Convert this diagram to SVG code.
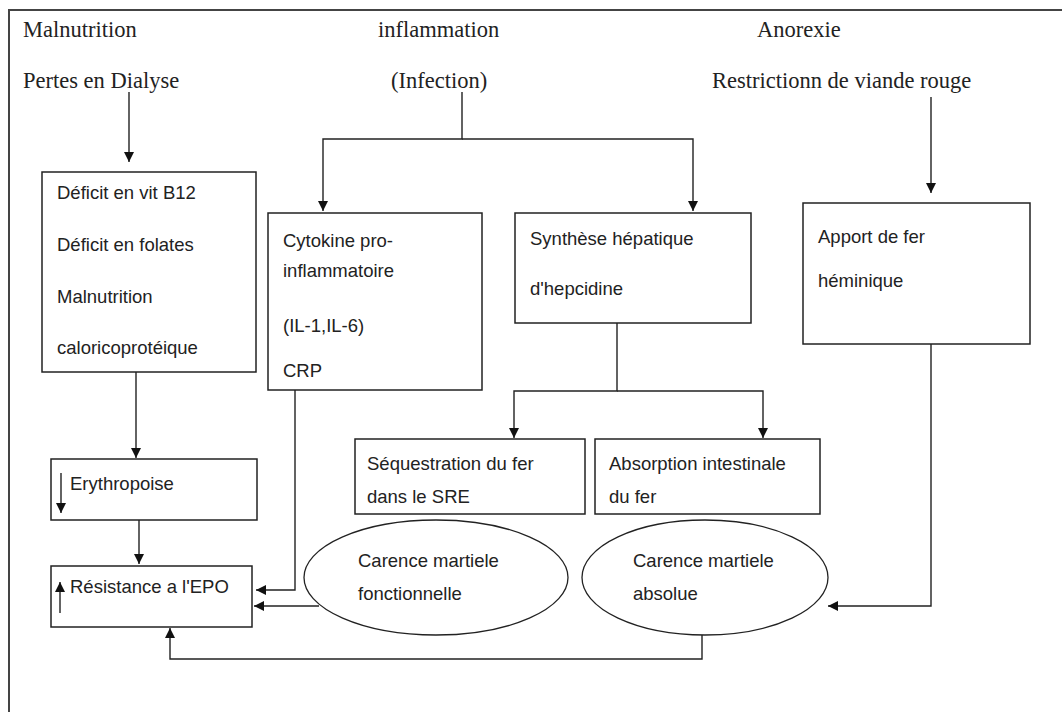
<svg xmlns="http://www.w3.org/2000/svg" width="1062" height="712" viewBox="0 0 1062 712">
<style>
.bg{fill:#fff}
.frame{stroke:#444;stroke-width:2;fill:none}
.box{fill:#fff;stroke:#222;stroke-width:1.5}
.ell{fill:#fff;stroke:#222;stroke-width:1.3}
.ln{fill:none;stroke:#222;stroke-width:1.4}
.lab{font-family:"Liberation Serif","Times New Roman",serif;font-size:22.5px;fill:#222}
.txt{font-family:"Liberation Sans",Arial,sans-serif;font-size:18.5px;fill:#222}
</style>
<defs>
<marker id="ah" viewBox="0 0 10 10" refX="10" refY="5" markerWidth="10" markerHeight="10" markerUnits="userSpaceOnUse" orient="auto">
<path d="M0,0 L10,5 L0,10 z" fill="#111"/>
</marker>
</defs>
<rect class="bg" x="0" y="0" width="1062" height="712"/>
<g id="frame">
<path class="frame" d="M9,712 V10 H1062"/>
</g>
<g id="labels">
<text class="lab" x="23" y="37">Malnutrition</text>
<text class="lab" x="23" y="88">Pertes en Dialyse</text>
<text class="lab" x="378" y="37">inflammation</text>
<text class="lab" x="391" y="88">(Infection)</text>
<text class="lab" x="757" y="37">Anorexie</text>
<text class="lab" x="712" y="88">Restrictionn de viande rouge</text>
</g>
<g id="connectors">
<path class="ln" d="M129,92 V162" marker-end="url(#ah)"/>
<path class="ln" d="M462,92 V139 H323 V211" marker-end="url(#ah)"/>
<path class="ln" d="M462,139 H693 V211" marker-end="url(#ah)"/>
<path class="ln" d="M931,97 V193" marker-end="url(#ah)"/>
<path class="ln" d="M136,372 V458" marker-end="url(#ah)"/>
<path class="ln" d="M139,520 V564" marker-end="url(#ah)"/>
<path class="ln" d="M295,390 V590 H256" marker-end="url(#ah)"/>
<path class="ln" d="M617,323 V391 H514 V438" marker-end="url(#ah)"/>
<path class="ln" d="M617,391 H763 V438" marker-end="url(#ah)"/>
<path class="ln" d="M319,606 H254" marker-end="url(#ah)"/>
<path class="ln" d="M931,344 V606 H828" marker-end="url(#ah)"/>
<path class="ln" d="M702,635 V659 H170 V628" marker-end="url(#ah)"/>
</g>
<g id="deficit">
<rect class="box" x="42" y="172" width="214" height="200"/>
<text class="txt" x="57" y="199">Déficit en vit B12</text>
<text class="txt" x="57" y="251">Déficit en folates</text>
<text class="txt" x="57" y="303">Malnutrition</text>
<text class="txt" x="57" y="354">caloricoprotéique</text>
</g>
<g id="cytokine">
<rect class="box" x="268" y="213" width="214" height="177"/>
<text class="txt" x="283" y="247">Cytokine pro-</text>
<text class="txt" x="283" y="277">inflammatoire</text>
<text class="txt" x="283" y="332">(IL-1,IL-6)</text>
<text class="txt" x="283" y="377">CRP</text>
</g>
<g id="hepcidine">
<rect class="box" x="515" y="213" width="236" height="110"/>
<text class="txt" x="530" y="245">Synthèse hépatique</text>
<text class="txt" x="530" y="295">d'hepcidine</text>
</g>
<g id="apport">
<rect class="box" x="803" y="203" width="227" height="141"/>
<text class="txt" x="818" y="243">Apport de fer</text>
<text class="txt" x="818" y="287">héminique</text>
</g>
<g id="sequestration">
<rect class="box" x="355" y="439" width="230" height="75"/>
<text class="txt" x="367" y="470">Séquestration du fer</text>
<text class="txt" x="367" y="503">dans le SRE</text>
</g>
<g id="absorption">
<rect class="box" x="595" y="439" width="225" height="75"/>
<text class="txt" x="609" y="470">Absorption intestinale</text>
<text class="txt" x="609" y="503">du fer</text>
</g>
<g id="erythropoise">
<rect class="box" x="51" y="459" width="206" height="61"/>
<path class="ln" d="M61,473 V513" marker-end="url(#ah)"/>
<text class="txt" x="70" y="490">Erythropoise</text>
</g>
<g id="resistance">
<rect class="box" x="51" y="566" width="201" height="61"/>
<path class="ln" d="M60,613 V582" marker-end="url(#ah)"/>
<text class="txt" x="70" y="593">Résistance a l'EPO</text>
</g>
<g id="carence-fonctionnelle">
<ellipse class="ell" cx="436" cy="577.5" rx="132" ry="57.5"/>
<text class="txt" x="358" y="567">Carence martiele</text>
<text class="txt" x="358" y="600">fonctionnelle</text>
</g>
<g id="carence-absolue">
<ellipse class="ell" cx="705" cy="577.5" rx="123" ry="57.5"/>
<text class="txt" x="633" y="567">Carence martiele</text>
<text class="txt" x="633" y="600">absolue</text>
</g>
</svg>
